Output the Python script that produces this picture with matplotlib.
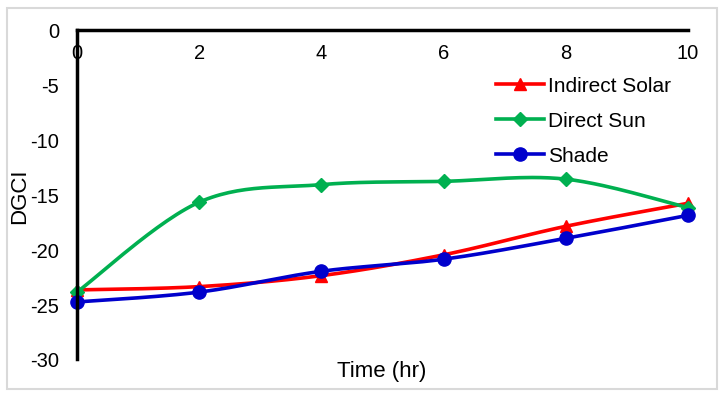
import numpy as np
import matplotlib
matplotlib.use("Agg")
import matplotlib.pyplot as plt
from matplotlib.patches import Rectangle

plt.rcParams['font.family'] = ['Liberation Sans', 'DejaVu Sans']
plt.rcParams['axes.unicode_minus'] = False

hours = [0, 2, 4, 6, 8, 10]
indirect_solar = [-23.7, -23.4, -22.4, -20.5, -17.9, -15.8]
direct_sun = [-23.9, -15.7, -14.1, -13.8, -13.6, -16.2]
shade = [-24.8, -23.9, -22.0, -20.9, -19.0, -16.9]


def smooth(x, y, n=30):
    # Excel-like smoothed line: Catmull-Rom as cubic Bezier
    x = np.asarray(x, float)
    y = np.asarray(y, float)
    pts = np.column_stack([x, y])
    out = []
    for i in range(len(pts) - 1):
        p0 = pts[i - 1] if i > 0 else pts[i]
        p1 = pts[i]
        p2 = pts[i + 1]
        p3 = pts[i + 2] if i + 2 < len(pts) else pts[i + 1]
        c1 = p1 + (p2 - p0) / 6
        c2 = p2 - (p3 - p1) / 6
        t = np.linspace(0, 1, n)[:, None]
        seg = ((1 - t) ** 3) * p1 + 3 * ((1 - t) ** 2) * t * c1 + 3 * (1 - t) * t ** 2 * c2 + t ** 3 * p2
        out.append(seg if i == 0 else seg[1:])
    seg = np.vstack(out)
    return seg[:, 0], seg[:, 1]


fig = plt.figure(figsize=(7.24, 4.02), dpi=100)
fig.patches.append(Rectangle((7 / 724, 1 - 390 / 402), 710 / 724, 381 / 402,
                             transform=fig.transFigure, fill=False,
                             edgecolor='#d9d9d9', lw=1.5))
ax = fig.add_axes([77 / 724, 1 - 360 / 402, 611 / 724, 329 / 402])

series = [
    ("Indirect Solar", indirect_solar, '#ff0000', '^', 9),
    ("Direct Sun", direct_sun, '#00b050', 'D', 7),
    ("Shade", shade, '#0000cc', 'o', 9.5),
]
for name, vals, color, mk, ms in series:
    sx, sy = smooth(hours, vals)
    ax.plot(sx, sy, color=color, lw=2.6, solid_capstyle='round', clip_on=False)
    ax.plot(hours, vals, linestyle='none', marker=mk, ms=ms, color=color, clip_on=False)
    ax.plot([], [], color=color, lw=2.6, marker=mk, ms=ms, label=name)

ax.set_xlim(0, 10)
ax.set_ylim(-30, 0)
ax.set_xticks(hours)
ax.set_yticks(range(-30, 1, 5))
ax.xaxis.set_ticks_position('top')
ax.tick_params(axis='x', length=0, pad=-23, labelsize=14.5)
ax.tick_params(axis='y', length=0, pad=13, labelsize=14.5)
for s in ['right', 'bottom']:
    ax.spines[s].set_visible(False)
ax.spines['top'].set_linewidth(2.5)
ax.spines['left'].set_linewidth(2.5)
fig.text(20 / 724, 1 - 196 / 402, 'DGCI', fontsize=16, rotation=90, ha='center', va='center')
fig.text(382 / 724, 1 - 372 / 402, 'Time (hr)', fontsize=16, ha='center', va='center')

ax.legend(loc='upper left', bbox_to_anchor=(419 / 611, 1 - 46 / 329), frameon=False,
          fontsize=15, handlelength=2.3, handletextpad=0.2, labelspacing=0.77,
          borderaxespad=0, borderpad=0)

fig.savefig('out.png', dpi=100)
